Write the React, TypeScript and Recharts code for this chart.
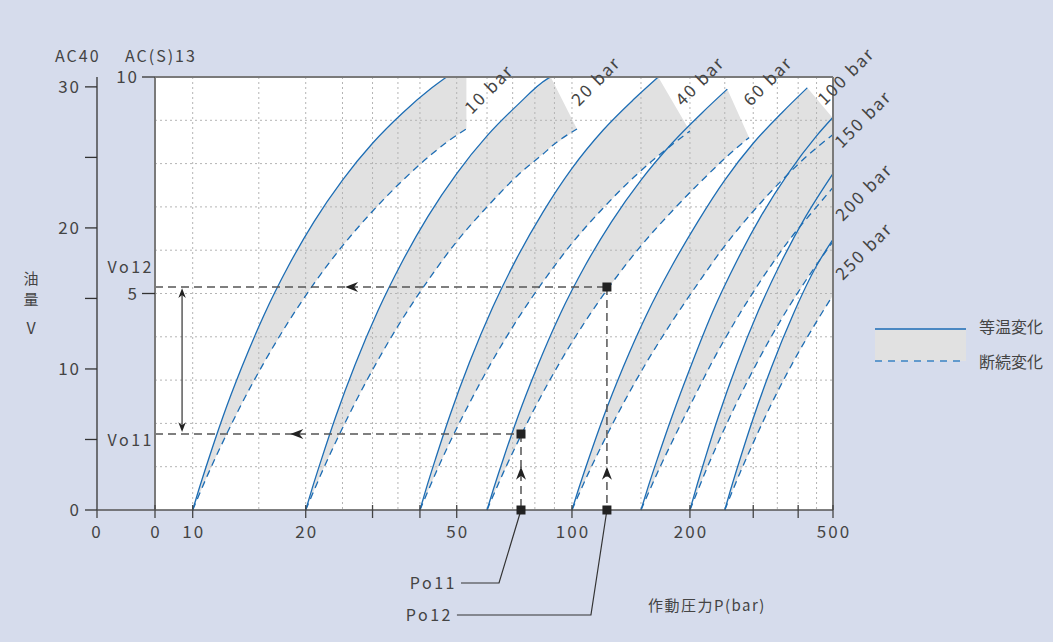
import React from "react";
import {
  ComposedChart,
  Area,
  Line,
  Scatter,
  XAxis,
  YAxis,
  CartesianGrid,
  ReferenceLine,
} from "recharts";

// Precharge-pressure curves: P (bar) against oil volume V (AC(S)13 scale, L)
const p10 = [10, 10.4, 11, 12, 13.5, 15.5, 18, 21, 25, 30, 36, 43, 47, 53];
const iso10 = [0, 0.49, 1.15, 2.12, 3.29, 4.51, 5.64, 6.65, 7.62, 8.47, 9.17, 9.75, 10, null];
const adi10 = [0, 0.35, 0.84, 1.55, 2.45, 3.41, 4.35, 5.22, 6.1, 6.9, 7.61, 8.22, 8.49, 8.8];

const p20 = [20, 20.8, 22, 24, 27, 31, 36, 42, 50, 60, 72, 86, 88, 103];
const iso20 = [0, 0.5, 1.17, 2.16, 3.36, 4.6, 5.75, 6.78, 7.77, 8.64, 9.35, 9.95, 10, null];
const adi20 = [0, 0.35, 0.85, 1.57, 2.48, 3.46, 4.42, 5.3, 6.2, 7.0, 7.72, 8.3, 8.38, 8.8];

const p40 = [40, 41.6, 44, 48, 54, 62, 72, 84, 100, 120, 144, 166, 200];
const iso40 = [0, 0.51, 1.19, 2.19, 3.41, 4.67, 5.84, 6.88, 7.89, 8.77, 9.49, 10, null];
const adi40 = [0, 0.35, 0.85, 1.57, 2.47, 3.45, 4.4, 5.27, 6.16, 6.97, 7.69, 8.18, 8.75];

const p60 = [60, 62.4, 66, 72, 81, 93, 108, 126, 150, 180, 216, 254, 292];
const iso60 = [0, 0.49, 1.15, 2.12, 3.29, 4.51, 5.64, 6.65, 7.62, 8.47, 9.17, 9.72, null];
const adi60 = [0, 0.35, 0.84, 1.55, 2.45, 3.41, 4.35, 5.22, 6.1, 6.9, 7.61, 8.17, 8.6];

const p100 = [100, 104, 110, 120, 135, 155, 180, 210, 250, 300, 360, 424, 500];
const iso100 = [0, 0.49, 1.15, 2.12, 3.29, 4.51, 5.64, 6.65, 7.62, 8.47, 9.17, 9.75, null];
const adi100 = [0, 0.35, 0.84, 1.55, 2.45, 3.41, 4.35, 5.22, 6.1, 6.9, 7.61, 8.18, 8.67];

const p150 = [150, 156, 165, 180, 202, 232, 270, 315, 375, 450, 500];
const iso150 = [0, 0.5, 1.17, 2.16, 3.36, 4.6, 5.75, 6.78, 7.77, 8.64, 9.07];
const adi150 = [0, 0.35, 0.85, 1.57, 2.48, 3.46, 4.42, 5.3, 6.2, 7.0, 7.45];

const p200 = [200, 208, 220, 240, 270, 310, 360, 420, 500];
const iso200 = [0, 0.5, 1.17, 2.16, 3.36, 4.6, 5.75, 6.78, 7.77];
const adi200 = [0, 0.35, 0.85, 1.57, 2.48, 3.46, 4.42, 5.3, 6.2];

const p250 = [250, 260, 275, 300, 337, 387, 450, 500];
const iso250 = [0, 0.49, 1.15, 2.12, 3.29, 4.51, 5.64, 6.25];
const adi250 = [0, 0.35, 0.84, 1.55, 2.45, 3.41, 4.35, 4.96];

// cut = upper edge of the grey band once the isothermal curve has ended
const curves = [
  { name: "10 bar", p: p10, iso: iso10, adi: adi10, cut: 10 },
  { name: "20 bar", p: p20, iso: iso20, adi: adi20, cut: 8.8 },
  { name: "40 bar", p: p40, iso: iso40, adi: adi40, cut: 8.75 },
  { name: "60 bar", p: p60, iso: iso60, adi: adi60, cut: 8.6 },
  { name: "100 bar", p: p100, iso: iso100, adi: adi100, cut: 9.05 },
  { name: "150 bar", p: p150, iso: iso150, adi: adi150, cut: 0 },
  { name: "200 bar", p: p200, iso: iso200, adi: adi200, cut: 0 },
  { name: "250 bar", p: p250, iso: iso250, adi: adi250, cut: 0 },
];

// axes
const xTicks = [8, 10, 20, 30, 40, 50, 100, 200, 300, 400, 500];
const xLabelled = [10, 20, 50, 100, 200, 500];
const xGrid = [10, 15, 20, 25, 30, 35, 40, 50, 60, 70, 80, 90, 100, 150, 200, 250, 300, 350, 400, 450];
const yGrid = [1, 2, 3, 4, 5, 6, 7, 8, 9];
const innerTicks = [5, 10];
const outerTicks = [0, 5, 10, 15, 20, 25, 30];

// worked example: Po11/Po12 -> Vo11/Vo12
const po11 = 73.6;
const po12 = 122.8;
const vo11 = 1.755;
const vo12 = 5.15;
const squares = [
  { p: po12, v: vo12 },
  { p: po11, v: vo11 },
];
const poMarks = [
  { p: po11, v: 0, name: "Po11" },
  { p: po12, v: 0, name: "Po12" },
];
const arrows = [
  { p: 25.4, v: vo12, dir: "left" },
  { p: 18.2, v: vo11, dir: "left" },
  { p: po11, v: 1.0, dir: "up" },
  { p: po12, v: 1.0, dir: "up" },
  { p: 9.39, v: 5.12, dir: "up", small: true },
  { p: 9.39, v: 1.8, dir: "down", small: true },
];

const barLabels = [
  { text: "10 bar", x: 489, y: 89 },
  { text: "20 bar", x: 596, y: 81 },
  { text: "40 bar", x: 700, y: 81 },
  { text: "60 bar", x: 768, y: 81 },
  { text: "100 bar", x: 846, y: 76 },
  { text: "150 bar", x: 863, y: 119 },
  { text: "200 bar", x: 864, y: 192 },
  { text: "250 bar", x: 864, y: 251 },
];

const BLUE = "#1d6db4";
const BAND = "#e1e1e1";
const INK = "#444";
const FONT = "'Noto Sans CJK JP', 'Noto Sans', sans-serif";

// printed pressure scale is log-like but not exact: value -> fraction of plot width
const pressureAnchors: [number, number][] = [
  [8, 0],
  [10, 0.0556],
  [20, 0.2223],
  [50, 0.445],
  [100, 0.615],
  [200, 0.789],
  [500, 1],
];

function pressureScale(): any {
  let dom = [8, 500];
  let rng = [0, 1];
  const frac = (v: number) => {
    const lv = Math.log10(Math.max(v, 1e-6));
    const a = pressureAnchors;
    let i = 0;
    while (i < a.length - 2 && lv > Math.log10(a[i + 1][0])) i++;
    const l0 = Math.log10(a[i][0]);
    const l1 = Math.log10(a[i + 1][0]);
    return a[i][1] + ((lv - l0) / (l1 - l0)) * (a[i + 1][1] - a[i][1]);
  };
  const s: any = (v: number) => rng[0] + frac(v) * (rng[1] - rng[0]);
  s.domain = function (d?: number[]) {
    if (!arguments.length) return dom.slice();
    dom = (d as number[]).slice();
    return s;
  };
  s.range = function (r?: number[]) {
    if (!arguments.length) return rng.slice();
    rng = (r as number[]).slice();
    return s;
  };
  s.copy = () => pressureScale().domain(dom).range(rng);
  s.ticks = () => xTicks;
  s.tickFormat = () => (v: number) => String(v);
  s.clamp = () => s;
  s.invert = (px: number) => {
    const f = (px - rng[0]) / (rng[1] - rng[0]);
    const a = pressureAnchors;
    let i = 0;
    while (i < a.length - 2 && f > a[i + 1][1]) i++;
    const l0 = Math.log10(a[i][0]);
    const l1 = Math.log10(a[i + 1][0]);
    return Math.pow(10, l0 + ((f - a[i][1]) / (a[i + 1][1] - a[i][1])) * (l1 - l0));
  };
  return s;
}
const xScale = pressureScale();

const pts = (p: number[], v: (number | null)[]) =>
  p.map((x, i) => ({ p: x, v: v[i] })).filter((d) => d.v != null);
const band = (c: (typeof curves)[number]) =>
  c.p.map((x, i) => ({ p: x, range: [c.adi[i], c.iso[i] ?? c.cut] }));

const numText = { fontSize: 17, fill: INK, letterSpacing: 2 };

function PressureTick(props: any) {
  const { x, y, payload } = props;
  const v = payload.value;
  const label = v === 8 ? "0" : xLabelled.includes(v) ? String(v) : "";
  return (
    <g>
      <line x1={x} x2={x} y1={y - 5} y2={y + 8} stroke={INK} strokeWidth={1.3} />
      {label && (
        <text x={x + 1} y={y + 22} dy="0.36em" textAnchor="middle" {...numText}>
          {label}
        </text>
      )}
    </g>
  );
}

function InnerTick(props: any) {
  const { x, y, payload } = props;
  return (
    <g>
      <line x1={x - 13} x2={x} y1={y} y2={y} stroke="#333" strokeWidth={1.3} />
      <text x={x - 16} y={y} dy="0.36em" textAnchor="end" {...numText}>
        {payload.value}
      </text>
    </g>
  );
}

function OuterTick(props: any) {
  const { x, y, payload } = props;
  const v = payload.value;
  return (
    <g>
      <line x1={x - 12} x2={x} y1={y} y2={y} stroke="#333" strokeWidth={1.3} />
      {v % 10 === 0 && (
        <text x={x - 16} y={y} dy="0.36em" textAnchor="end" {...numText}>
          {v}
        </text>
      )}
      {v === 0 && (
        <g>
          <line x1={x} x2={x + 58} y1={y} y2={y} stroke="#555" strokeWidth={1.5} />
          <line x1={x} x2={x} y1={y} y2={y + 8} stroke={INK} strokeWidth={1.3} />
          <text x={x} y={y + 22} dy="0.36em" textAnchor="middle" {...numText}>
            0
          </text>
        </g>
      )}
    </g>
  );
}

function SquareShape(props: any) {
  const { cx, cy } = props;
  return <rect x={cx - 4.5} y={cy - 4.5} width={9} height={9} fill="#222" />;
}

const leaders: Record<string, { drop: number; knee: number; end: number }> = {
  Po11: { drop: 73, knee: -22, end: -60 },
  Po12: { drop: 105, knee: -16, end: -150 },
};

function PoShape(props: any) {
  const { cx, cy, payload } = props;
  const l = leaders[payload.name];
  return (
    <g>
      <polyline
        points={`${cx},${cy} ${cx + l.knee},${cy + l.drop} ${cx + l.end},${cy + l.drop}`}
        fill="none"
        stroke="#333"
        strokeWidth={1.2}
      />
      <rect x={cx - 4.5} y={cy - 4.5} width={9} height={9} fill="#222" />
      <text
        x={cx + l.end - 4}
        y={cy + l.drop}
        dy="0.36em"
        textAnchor="end"
        fontSize={16}
        fill={INK}
        letterSpacing={2.5}
      >
        {payload.name}
      </text>
    </g>
  );
}

function ArrowShape(props: any) {
  const { cx, cy, payload } = props;
  const rot = { up: 0, down: 180, left: -90, right: 90 }[payload.dir as string] ?? 0;
  const s = payload.small ? 0.75 : 1;
  return (
    <path
      d="M0,0 L-5,13 L0,9 L5,13 Z"
      transform={`translate(${cx},${cy}) rotate(${rot}) scale(${s})`}
      fill="#222"
    />
  );
}

export default function App() {
  const axisIds = { xAxisId: "p", yAxisId: "a_inner" };
  const guide = { stroke: "#555", strokeWidth: 1.5, strokeDasharray: "8 5" };
  return (
    <div
      style={{
        position: "absolute",
        left: 0,
        top: 0,
        width: 1053,
        height: 642,
        background: "#d6dcec",
        fontFamily: FONT,
      }}
    >
      <ComposedChart width={1053} height={642} margin={{ top: 77, right: 220, bottom: 0, left: 37 }}>
        <XAxis
          xAxisId="p"
          dataKey="p"
          type="number"
          scale={xScale}
          domain={[8, 500]}
          ticks={xTicks}
          interval={0}
          tick={<PressureTick />}
          tickSize={0}
          tickMargin={0}
          tickLine={false}
          axisLine={{ stroke: "#555", strokeWidth: 1.5 }}
          height={132}
        />
        <YAxis
          yAxisId="a_inner"
          dataKey="v"
          type="number"
          domain={[0, 10]}
          ticks={innerTicks}
          interval={0}
          width={58}
          tickSize={0}
          tickMargin={0}
          tickLine={false}
          tick={<InnerTick />}
          axisLine={{ stroke: "#7a7a7a", strokeWidth: 2 }}
        />
        <YAxis
          yAxisId="b_outer"
          type="number"
          domain={[0, 30.7]}
          allowDataOverflow
          ticks={outerTicks}
          interval={0}
          width={60}
          tickSize={0}
          tickMargin={0}
          tickLine={false}
          tick={<OuterTick />}
          axisLine={{ stroke: "#333", strokeWidth: 1.3 }}
        />
        <CartesianGrid {...axisIds} fill="#ffffff" horizontal={false} vertical={false} />

        {curves.map((c) => (
          <Area
            key={"band" + c.name}
            {...axisIds}
            data={band(c)}
            dataKey="range"
            type="linear"
            stroke="none"
            fill={BAND}
            fillOpacity={1}
            isAnimationActive={false}
          />
        ))}

        <CartesianGrid
          {...axisIds}
          horizontalValues={yGrid}
          verticalValues={xGrid}
          stroke="#b4b4b4"
          strokeDasharray="2 3"
          zIndex={150}
        />

        {curves.map((c) => (
          <Line
            key={"adi" + c.name}
            {...axisIds}
            data={pts(c.p, c.adi)}
            dataKey="v"
            type="monotone"
            stroke={BLUE}
            strokeWidth={1.3}
            strokeDasharray="7 5"
            dot={false}
            activeDot={false}
            isAnimationActive={false}
          />
        ))}
        {curves.map((c) => (
          <Line
            key={"iso" + c.name}
            {...axisIds}
            data={pts(c.p, c.iso)}
            dataKey="v"
            type="monotone"
            stroke={BLUE}
            strokeWidth={1.3}
            dot={false}
            activeDot={false}
            isAnimationActive={false}
          />
        ))}

        <ReferenceLine {...axisIds} y={10} stroke="#7a7a7a" strokeWidth={2} />
        <ReferenceLine {...axisIds} x={500} stroke="#7a7a7a" strokeWidth={2} />

        <ReferenceLine {...axisIds} segment={[{ x: 8, y: vo12 }, { x: po12, y: vo12 }]} {...guide} />
        <ReferenceLine {...axisIds} segment={[{ x: po12, y: vo12 }, { x: po12, y: 0 }]} {...guide} />
        <ReferenceLine {...axisIds} segment={[{ x: 8, y: vo11 }, { x: po11, y: vo11 }]} {...guide} />
        <ReferenceLine {...axisIds} segment={[{ x: po11, y: vo11 }, { x: po11, y: 0 }]} {...guide} />
        <ReferenceLine
          {...axisIds}
          segment={[{ x: 9.39, y: 5.05 }, { x: 9.39, y: 1.87 }]}
          stroke="#333"
          strokeWidth={1.2}
        />

        <Scatter {...axisIds} data={arrows} dataKey="v" shape={<ArrowShape />} isAnimationActive={false} />
        <Scatter {...axisIds} data={squares} dataKey="v" shape={<SquareShape />} isAnimationActive={false} />
        <Scatter {...axisIds} data={poMarks} dataKey="v" shape={<PoShape />} isAnimationActive={false} />
      </ComposedChart>

      <svg
        width={1053}
        height={642}
        style={{ position: "absolute", left: 0, top: 0, pointerEvents: "none", fontFamily: FONT }}
      >
        <text x={55} y={62} fontSize={16} fill={INK} letterSpacing={2}>AC40</text>
        <text x={125} y={62} fontSize={16} fill={INK} letterSpacing={2}>AC(S)13</text>
        <text x={154} y={273} fontSize={16} fill={INK} textAnchor="end" letterSpacing={2.5}>Vo12</text>
        <text x={154} y={446} fontSize={16} fill={INK} textAnchor="end" letterSpacing={2.5}>Vo11</text>
        <text x={31} y={284} fontSize={15} fill={INK} textAnchor="middle">油</text>
        <text x={31} y={305} fontSize={15} fill={INK} textAnchor="middle">量</text>
        <text x={31} y={334} fontSize={16} fill={INK} textAnchor="middle">V</text>
        <text x={648} y={611} fontSize={15} fill={INK} letterSpacing={1.5}>作動圧力P(bar)</text>

        {barLabels.map((b) => (
          <text
            key={b.text}
            x={b.x}
            y={b.y}
            dy="0.36em"
            fontSize={17}
            fill={INK}
            letterSpacing={2}
            textAnchor="middle"
            transform={`rotate(-45 ${b.x} ${b.y})`}
          >
            {b.text}
          </text>
        ))}

        <rect x={875} y={330} width={91} height={31} fill={BAND} />
        <line x1={875} x2={966} y1={329} y2={329} stroke={BLUE} strokeWidth={1.3} />
        <line x1={875} x2={966} y1={361} y2={361} stroke="#3a82c4" strokeWidth={1.3} strokeDasharray="7 6" />
        <text x={979} y={327} dy="0.36em" fontSize={16} fill={INK}>等温変化</text>
        <text x={979} y={362} dy="0.36em" fontSize={16} fill={INK}>断続変化</text>
      </svg>
    </div>
  );
}
